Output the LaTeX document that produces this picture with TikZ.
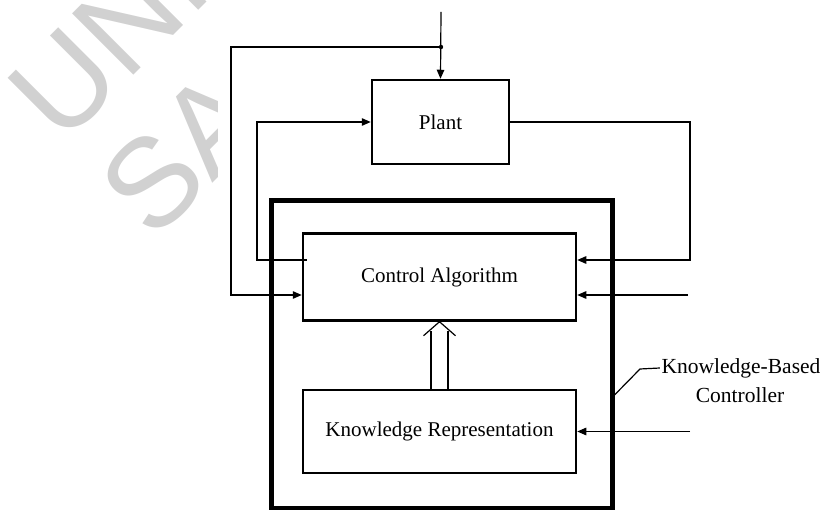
\documentclass[tikz,border=0pt]{standalone}
\usepackage{fontspec}
\setmainfont{Liberation Serif}
\newfontfamily\wmfont{Liberation Sans}
\usetikzlibrary{arrows.meta,calc}
\begin{document}
\begin{tikzpicture}[x=1pt,y=-1pt,
  blockbox/.style={draw,line width=2.5pt,inner sep=0pt,font=\fontsize{21}{25}\selectfont},
  conn/.style={line width=1.2pt},
  arr/.style={conn,-{Triangle[length=9pt,width=7.5pt]}},
  lbl/.style={inner sep=1.5pt,font=\fontsize{21.5}{25}\selectfont},
  wmark/.style={anchor=base west,rotate=45,text=black!18,inner sep=0pt,font=\wmfont\fontsize{126}{126}\selectfont}]
\useasboundingbox (0,0) rectangle (825,510);
% watermark
\begin{scope}
\clip (0,0) rectangle (825,510);
\node[wmark] (wm1) at (62,147) {UNI};
\node[wmark] (wm2) at (153,243) {SA};
\fill[white] (218,12) rectangle (825,510);
\end{scope}
% blocks
\node[blockbox,minimum width=137pt,minimum height=84pt] (plant) at (440.5,122) {Plant};
\node[draw,line width=5pt,minimum width=341pt,minimum height=307pt,inner sep=0pt] (kbc) at (441.5,354.5) {};
\node[blockbox,minimum width=273pt,minimum height=87pt] (ca) at (439.5,277) {Control Algorithm};
\node[blockbox,minimum width=273pt,minimum height=83pt] (kr) at (439.5,431.5) {Knowledge Representation};
% label
\node[lbl] (lbl1) at (741,368) {Knowledge-Based};
\node[lbl] (lbl2) at (740,395) {Controller};
% connectors
\coordinate (in) at (441,12);
\coordinate (dot) at (441,47);
\draw[arr] (in) -- (plant.north);
\fill (dot) circle (2.2pt);
\draw[arr] (dot) -- (231,47) -- (231,295) -- ($(ca.west)+(0,18)$);
\draw[arr] (plant.east) -- (690,122) -- (690,260) -- ($(ca.east)+(0,-17)$);
\draw[arr] ($(ca.west)+(5,-17)$) -- (257,260) -- (257,122) -- (plant.west);
\coordinate (in2) at (688,295);
\draw[arr] (in2) -- ($(ca.east)+(0,18)$);
\coordinate (in3) at (690,431.5);
\draw[arr] (in3) -- (kr.east);
% double arrow
\draw[conn] ($(kr.north)+(-8.5,0)$) -- ($(ca.south)+(-8.5,9)$);
\draw[conn] ($(kr.north)+(8.5,0)$) -- ($(ca.south)+(8.5,9)$);
\draw[conn] ($(ca.south)+(-16,14)$) -- (ca.south) -- ($(ca.south)+(16,14)$);
% leader
\draw[conn] ($(kbc.east)+(0,40.5)$) -- (640,369) -- (lbl1.west);
\end{tikzpicture}
\end{document}
